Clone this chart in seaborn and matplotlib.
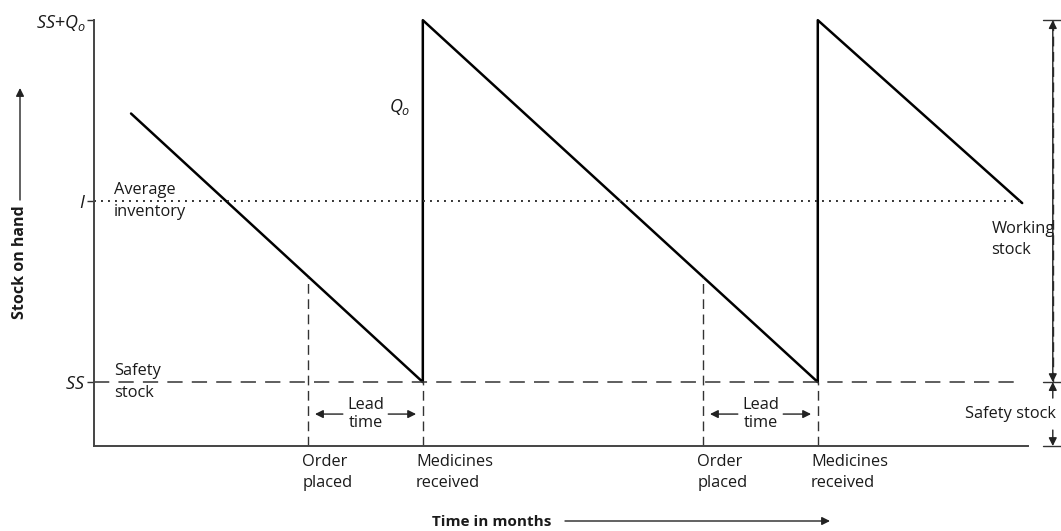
import seaborn as sns
import matplotlib
matplotlib.use('Agg')
import matplotlib.pyplot as plt

# sawtooth stock level (x: time units, y: stock units, SS = 1)
time = [0.375, 3.33, 3.33, 7.33, 7.33, 9.4]
stock = [5.2, 1.0, 6.66, 1.0, 6.66, 3.8]

ss_level = 1.0
avg_level = 3.83
top_level = 6.66
order_times = [2.17, 6.17]
receive_times = [3.33, 7.33]
order_stock = [2.64, 2.64]

tick_vals = [top_level, avg_level, ss_level]
tick_labels = [r'$SS$+$Q_o$', r'$I$', r'$SS$']

sns.set_style('white')
plt.rcParams['font.family'] = ['Open Sans', 'DejaVu Sans']
plt.rcParams['mathtext.fontset'] = 'custom'
plt.rcParams['mathtext.it'] = 'Open Sans:italic'
plt.rcParams['mathtext.rm'] = 'Open Sans'
plt.rcParams['text.color'] = '#1a1a1a'
plt.rcParams['ytick.labelcolor'] = '#1a1a1a'

fs = 11.8

fig = plt.figure(figsize=(10.61, 5.31), dpi=100)
ax = fig.add_axes([0.0886, 0.160, 0.8804, 0.802])

sns.lineplot(x=time, y=stock, sort=False, estimator=None, color='black',
             linewidth=1.8, ax=ax, clip_on=False)

ax.set_xlim(0, 9.46)
ax.set_ylim(0, top_level)

# average inventory and safety stock lines
ax.plot([0, 9.4], [avg_level, avg_level], color='#333333', lw=1.4,
        linestyle=(0, (1, 2.6)))
ax.plot([0, 9.4], [ss_level, ss_level], color='#333333', lw=1.1,
        linestyle=(0, (10, 6)))

# order / receive markers
for t, s in zip(order_times, order_stock):
    ax.plot([t, t], [0, s], color='#333333', lw=1.0, linestyle=(0, (7, 4)))
for t in receive_times:
    ax.plot([t, t], [0, ss_level], color='#333333', lw=1.0, linestyle=(0, (7, 4)))

for t0, t1 in zip(order_times, receive_times):
    mid = (t0 + t1) / 2
    ax.text(mid, 0.5, 'Lead\ntime', ha='center', va='center', fontsize=fs,
            linespacing=1.1)
    ax.annotate('', xy=(t0 + 0.04, 0.5), xytext=(mid - 0.23, 0.5),
                arrowprops=dict(arrowstyle='-|>', color='#222222', lw=1,
                                mutation_scale=12, shrinkA=0))
    ax.annotate('', xy=(t1 - 0.04, 0.5), xytext=(mid + 0.23, 0.5),
                arrowprops=dict(arrowstyle='-|>', color='#222222', lw=1,
                                mutation_scale=12, shrinkA=0))
    ax.text(t0 - 0.06, -0.12, 'Order\nplaced', ha='left', va='top', fontsize=fs,
            linespacing=1.4)
    ax.text(t1 - 0.07, -0.12, 'Medicines\nreceived', ha='left', va='top',
            fontsize=fs, linespacing=1.4)

ax.text(0.2, avg_level, 'Average\ninventory', ha='left', va='center',
        fontsize=fs, linespacing=1.5)
ax.text(0.2, ss_level, 'Safety\nstock', ha='left', va='center',
        fontsize=fs, linespacing=1.45)
ax.text(3.1, 5.3, r'$Q_o$', ha='center', va='center', fontsize=13)
ax.text(9.09, 3.23, 'Working\nstock', ha='left', va='center', fontsize=fs,
        linespacing=1.45)
ax.text(9.74, 0.5, 'Safety stock', ha='right', va='center', fontsize=fs)

# right-hand bracket
bx = 9.71
ax.plot([bx, bx], [ss_level, top_level], color='#333333', lw=1.0,
        linestyle=(0, (7, 4)), clip_on=False)
for lvl in [0, ss_level, top_level]:
    ax.plot([bx - 0.1, bx + 0.1], [lvl, lvl], color='#333333', lw=1.0,
            clip_on=False)
for a, b in [(5.0, top_level), (5.0, ss_level), (0.75, ss_level), (0.25, 0)]:
    ax.annotate('', xy=(bx, b), xytext=(bx, a), annotation_clip=False,
                arrowprops=dict(arrowstyle='-|>', color='#222222', lw=1,
                                mutation_scale=12, shrinkA=0, shrinkB=0))

ax.set_xticks([])
ax.set_yticks(tick_vals)
ax.set_yticklabels(tick_labels, fontsize=13)
ax.tick_params(axis='y', length=5, width=1, color='#333333', pad=1,
               left=True)
sns.despine(ax=ax)
for sp in ['left', 'bottom']:
    ax.spines[sp].set_color('#444444')
    ax.spines[sp].set_linewidth(1.4)

# axis titles with arrows
fig.text(492 / 1061, 1 - 522 / 531, 'Time in months', ha='center',
         va='center', fontsize=11, fontweight='bold')
ax.annotate('', xy=(830 / 1061, 1 - 521 / 531), xytext=(565 / 1061, 1 - 521 / 531),
            xycoords='figure fraction', textcoords='figure fraction',
            arrowprops=dict(arrowstyle='-|>', color='#222222', lw=1,
                            mutation_scale=12, shrinkA=0, shrinkB=0))
fig.text(20 / 1061, 1 - 262 / 531, 'Stock on hand', ha='center', va='center',
         rotation=90, fontsize=11.5, fontweight='bold')
ax.annotate('', xy=(20 / 1061, 1 - 88 / 531), xytext=(20 / 1061, 1 - 200 / 531),
            xycoords='figure fraction', textcoords='figure fraction',
            arrowprops=dict(arrowstyle='-|>', color='#222222', lw=1,
                            mutation_scale=12, shrinkA=0, shrinkB=0))

fig.savefig('out.png', dpi=100)
